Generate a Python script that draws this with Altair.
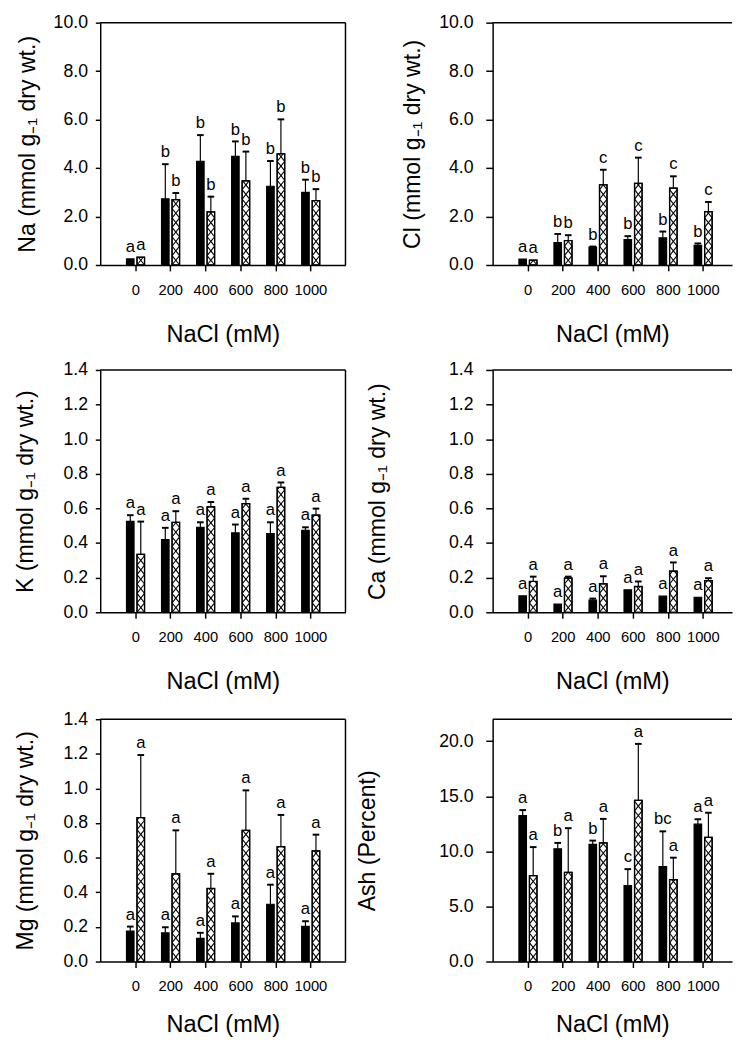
import altair as alt
import pandas as pd

FONT = "Liberation Sans"

nacl = [0, 200, 400, 600, 800, 1000]

# Na
na_black = [0.25, 2.73, 4.28, 4.48, 3.25, 3.00]
na_black_err = [0.0, 1.43, 1.08, 0.62, 1.04, 0.52]
na_black_lbl = ["a", "b", "b", "b", "b", "b"]
na_hatch = [0.32, 2.70, 2.19, 3.47, 4.59, 2.66]
na_hatch_err = [0.0, 0.27, 0.63, 1.21, 1.42, 0.47]
na_hatch_lbl = ["a", "b", "b", "b", "b", "b"]

# Cl
cl_black = [0.24, 0.92, 0.74, 1.05, 1.12, 0.81]
cl_black_err = [0.0, 0.36, 0.02, 0.14, 0.26, 0.08]
cl_black_lbl = ["a", "b", "b", "b", "b", "b"]
cl_hatch = [0.20, 1.01, 3.31, 3.37, 3.17, 2.20]
cl_hatch_err = [0.0, 0.22, 0.62, 1.06, 0.49, 0.40]
cl_hatch_lbl = ["a", "b", "c", "c", "c", "c"]

# K
k_black = [0.525, 0.42, 0.491, 0.459, 0.454, 0.473]
k_black_err = [0.036, 0.068, 0.029, 0.048, 0.066, 0.018]
k_black_lbl = ["a", "a", "a", "a", "a", "a"]
k_hatch = [0.335, 0.52, 0.609, 0.628, 0.722, 0.561]
k_hatch_err = [0.189, 0.064, 0.028, 0.028, 0.028, 0.038]
k_hatch_lbl = ["a", "a", "a", "a", "a", "a"]

# Ca
ca_black = [0.095, 0.047, 0.07, 0.13, 0.093, 0.087]
ca_black_err = [0.0, 0.0, 0.009, 0.0, 0.0, 0.0]
ca_black_lbl = ["a", "a", "a", "a", "a", "a"]
ca_hatch = [0.178, 0.197, 0.164, 0.149, 0.238, 0.183]
ca_hatch_err = [0.028, 0.009, 0.044, 0.029, 0.050, 0.014]
ca_hatch_lbl = ["a", "a", "a", "a", "a", "a"]

# Mg
mg_black = [0.176, 0.166, 0.134, 0.223, 0.331, 0.204]
mg_black_err = [0.026, 0.032, 0.032, 0.038, 0.113, 0.029]
mg_black_lbl = ["a", "a", "a", "a", "a", "a"]
mg_hatch = [0.832, 0.507, 0.422, 0.758, 0.664, 0.639]
mg_hatch_err = [0.361, 0.251, 0.085, 0.231, 0.183, 0.094]
mg_hatch_lbl = ["a", "a", "a", "a", "a", "a"]

# Ash
ash_black = [13.24, 10.24, 10.63, 6.90, 8.63, 12.47]
ash_black_err = [0.51, 0.53, 0.35, 1.49, 3.19, 0.45]
ash_black_lbl = ["a", "b", "b", "c", "bc", "a"]
ash_hatch = [7.80, 8.10, 10.77, 14.64, 7.44, 11.28]
ash_hatch_err = [2.59, 4.01, 2.18, 5.12, 1.99, 2.23]
ash_hatch_lbl = ["a", "a", "a", "a", "a", "a"]

y_ticks_10 = [0, 2, 4, 6, 8, 10]
y_ticks_14 = [0, 0.2, 0.4, 0.6, 0.8, 1.0, 1.2, 1.4]
y_ticks_ash = [0, 5, 10, 15, 20]

H = 247


def make_df(black, black_err, black_lbl, hatch, hatch_err, hatch_lbl):
    rows = []
    for i, c in enumerate(nacl):
        rows.append(dict(nacl=c, series="black", value=black[i], err=black_err[i], lbl=black_lbl[i]))
        rows.append(dict(nacl=c, series="hatch", value=hatch[i], err=hatch_err[i], lbl=hatch_lbl[i]))
    return pd.DataFrame(rows)


def panel(df, ymax, yvals, ytitle, width, xmax, title_x, left, tick_size, label_pad, x_title_pad=26):
    P = 9.6 * ymax / H  # hatch period in data units
    xscale = alt.Scale(domain=[-200, xmax], nice=False, zero=False)
    yscale = alt.Scale(domain=[0, ymax], nice=False, zero=True)
    xaxis = alt.Axis(
        values=nacl, format="d", title="NaCl (mM)", grid=False,
        domainColor="black", domainWidth=1.5, tickColor="black", tickSize=6, tickWidth=1.5,
        labelFontSize=15, labelFont=FONT, labelColor="black", labelPadding=12,
        labelFlush=False, labelOverlap=False,
        titleFontSize=24, titleFont=FONT, titleFontWeight="normal", titleColor="black",
        titlePadding=x_title_pad,
    )
    yaxis = alt.Axis(
        values=yvals, format=".1f", title=ytitle, grid=False,
        domainColor="black", domainWidth=1.5, tickColor="black", tickSize=tick_size, tickWidth=1.5,
        labelFontSize=18, labelFont=FONT, labelColor="black", labelPadding=label_pad,
        titleFontSize=23.5, titleFont=FONT, titleFontWeight="normal", titleColor="black",
        titleX=title_x, titleY=H / 2, titleAngle=270, titleAlign="center", titleBaseline="bottom",
    )

    def X(f):
        return alt.X(f, type="quantitative", scale=xscale, axis=xaxis)

    def Y(f):
        return alt.Y(f, type="quantitative", scale=yscale, axis=yaxis)

    base = alt.Chart(df).transform_calculate(
        xl="datum.nacl + (datum.series == 'black' ? -50 : 10)",
        xr="datum.nacl + (datum.series == 'black' ? -7 : 53)",
        xc="datum.nacl + (datum.series == 'black' ? -28.5 : 31.5)",
        top="datum.value + datum.err",
        zero="0",
    )

    bars = base.mark_rect(stroke="black", strokeWidth=1.2).encode(
        x=X("xl"), x2="xr:Q", y=Y("value"), y2="zero:Q",
        fill=alt.Fill("series:N", scale=alt.Scale(domain=["black", "hatch"], range=["black", "white"]), legend=None),
    )

    hatch = (
        base.transform_filter("datum.series == 'hatch'")
        .transform_calculate(k=f"sequence(0, ceil(datum.value / {P}))")
        .transform_flatten(["k"])
        .transform_calculate(y0=f"datum.k * {P}", y1=f"min(datum.value, (datum.k + 1) * {P})")
        .transform_calculate(f=f"(datum.y1 - datum.y0) / {P}")
        .transform_calculate(
            xa2="datum.xl + datum.f * (datum.xr - datum.xl)",
            xb2="datum.xr - datum.f * (datum.xr - datum.xl)",
        )
    )
    hatch_a = hatch.mark_rule(color="black", strokeWidth=1.1).encode(x=X("xl"), x2="xa2:Q", y=Y("y0"), y2="y1:Q")
    hatch_b = hatch.mark_rule(color="black", strokeWidth=1.1).encode(x=X("xr"), x2="xb2:Q", y=Y("y0"), y2="y1:Q")
    outline = base.transform_filter("datum.series == 'hatch'").mark_rect(
        fill=None, stroke="black", strokeWidth=1.3
    ).encode(x=X("xl"), x2="xr:Q", y=Y("value"), y2="zero:Q")

    errs = base.transform_filter("datum.err > 0")
    err_line = errs.mark_rule(color="black", strokeWidth=1.2).encode(x=X("xc"), y=Y("value"), y2="top:Q")
    err_cap = errs.transform_calculate(c0="datum.xc - 19", c1="datum.xc + 19").mark_rule(
        color="black", strokeWidth=2
    ).encode(x=X("c0"), x2="c1:Q", y=Y("top"))

    letters = base.mark_text(baseline="bottom", dy=-3, fontSize=17, font=FONT, color="black").encode(
        x=X("xc"), y=Y("top"), text="lbl:N"
    )

    frame_df = pd.DataFrame({"ytop": [ymax], "xright": [xmax]})
    top_rule = alt.Chart(frame_df).mark_rule(color="black", strokeWidth=1.5).encode(y=Y("ytop"))
    layers = [bars, hatch_a, hatch_b, outline, err_line, err_cap, letters, top_rule]
    if left:
        right_rule = alt.Chart(frame_df).mark_rule(color="black", strokeWidth=1.5).encode(x=X("xright"))
        layers.append(right_rule)
    return alt.layer(*layers).properties(width=width, height=H)


YT = "(mmol g\u208b\u2081 dry wt.)"
LW = 250
RW = 244
RXMAX = -200 + 1400 * RW / LW

p_na = panel(make_df(na_black, na_black_err, na_black_lbl, na_hatch, na_hatch_err, na_hatch_lbl),
             10, y_ticks_10, "Na " + YT, LW, 1200, -62, True, 5, 8)
p_cl = panel(make_df(cl_black, cl_black_err, cl_black_lbl, cl_hatch, cl_hatch_err, cl_hatch_lbl),
             10, y_ticks_10, "Cl " + YT, RW, RXMAX, -70, False, 7, 13)
p_k = panel(make_df(k_black, k_black_err, k_black_lbl, k_hatch, k_hatch_err, k_hatch_lbl),
            1.4, y_ticks_14, "K " + YT, LW, 1200, -64, True, 5, 8)
p_ca = panel(make_df(ca_black, ca_black_err, ca_black_lbl, ca_hatch, ca_hatch_err, ca_hatch_lbl),
             1.4, y_ticks_14, "Ca " + YT, RW, RXMAX, -105, False, 7, 13)
p_mg = panel(make_df(mg_black, mg_black_err, mg_black_lbl, mg_hatch, mg_hatch_err, mg_hatch_lbl),
             1.4, y_ticks_14, "Mg " + YT, LW, 1200, -64, True, 5, 8, x_title_pad=19)
p_ash = panel(make_df(ash_black, ash_black_err, ash_black_lbl, ash_hatch, ash_hatch_err, ash_hatch_lbl),
              22, y_ticks_ash, "Ash (Percent)", RW, RXMAX, -115, False, 7, 13, x_title_pad=19)

row1 = alt.hconcat(p_na, p_cl, spacing=55)
row2 = alt.hconcat(p_k, p_ca, spacing=20)
row3 = alt.hconcat(p_mg, p_ash, spacing=10)

lower = alt.vconcat(row2, row3, spacing=17)

chart = alt.vconcat(row1, lower, spacing=15).properties(
    padding={"left": 5, "top": -4, "right": 0, "bottom": -7},
    background="white",
).configure_view(stroke=None)

chart.save("out.html", embed_options={"renderer": "svg", "actions": False})
